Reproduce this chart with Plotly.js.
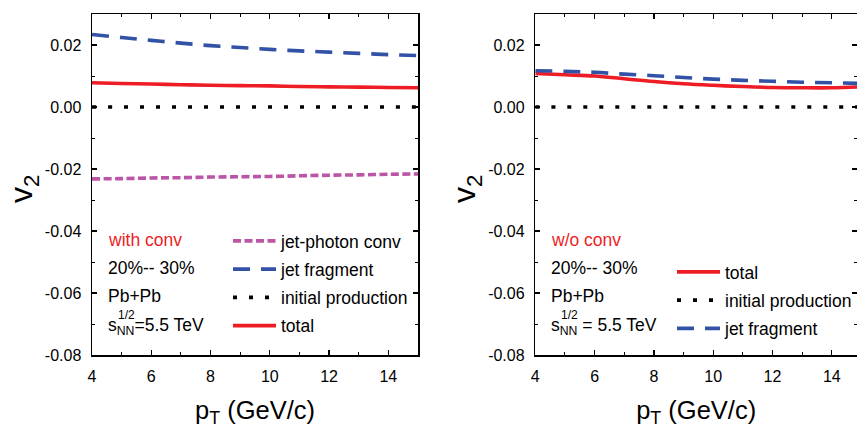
<!DOCTYPE html>
<html>
<head>
<meta charset="utf-8">
<script src="https://cdn.plot.ly/plotly-3.0.1.min.js"></script>
<style>html,body{margin:0;padding:0;background:#fff;}#chart{width:857px;height:430px;}</style>
</head>
<body>
<div id="chart"></div>
<script>
// ---- data ----
const ptLeft = [4, 5, 6, 7, 8, 9, 10, 11, 12, 13, 14, 15];
const leftJetConv = [-0.0232, -0.0231, -0.0229, -0.0228, -0.0226, -0.0225, -0.0224, -0.0222, -0.0220, -0.0219, -0.0217, -0.0216];
const leftJetFrag = [0.0234, 0.0224, 0.0215, 0.0206, 0.0198, 0.0192, 0.0186, 0.0181, 0.0177, 0.0173, 0.0169, 0.0166];
const leftInitial = [0, 0, 0, 0, 0, 0, 0, 0, 0, 0, 0, 0];
const leftTotal = [0.0078, 0.0076, 0.0074, 0.0072, 0.0070, 0.0069, 0.0068, 0.0066, 0.0065, 0.0064, 0.0063, 0.0062];

const ptRight = [4, 5, 6, 7, 8, 9, 10, 11, 12, 13, 14, 15];
const rightTotal = [0.0108, 0.0104, 0.0100, 0.0091, 0.0082, 0.0075, 0.0070, 0.0066, 0.0063, 0.0062, 0.0062, 0.0065];
const rightInitial = [0, 0, 0, 0, 0, 0, 0, 0, 0, 0, 0, 0];
const rightJetFrag = [0.0117, 0.0115, 0.0112, 0.0106, 0.0101, 0.0095, 0.0090, 0.0086, 0.0083, 0.0080, 0.0078, 0.0076];

const xTickVals = [4, 6, 8, 10, 12, 14];
const yTickVals = [-0.08, -0.06, -0.04, -0.02, 0.00, 0.02];
const yTickText = ['-0.08', '-0.06', '-0.04', '-0.02', '0.00', '0.02'];

// ---- styles ----
const RED = '#ee1d25', BLUE = '#3252a6', MAG = '#bd55a6', BLK = '#000000';
const FONT = 'Liberation Sans, Arial, sans-serif';
const W = 857, H = 430;

function tr(x, y, name, color, dash, xa, ya, leg, grp) {
  return {x: x, y: y, type: 'scatter', mode: 'lines', name: name,
    line: {color: color, width: 3.6, dash: dash, shape: 'spline'},
    xaxis: xa, yaxis: ya, legend: leg, legendgroup: grp, hoverinfo: 'skip'};
}

const traces = [
  tr(ptLeft, leftJetConv, 'jet-photon conv', MAG, '8px,3.5px', 'x', 'y', 'legend', 'a1'),
  tr(ptLeft, leftJetFrag, 'jet fragment', BLUE, '17px,11px', 'x', 'y', 'legend', 'a2'),
  tr(ptLeft, leftInitial, 'initial production', BLK, '4px,12px', 'x', 'y', 'legend', 'a3'),
  tr(ptLeft, leftTotal, 'total', RED, 'solid', 'x', 'y', 'legend', 'a4'),
  tr(ptRight, rightTotal, 'total', RED, 'solid', 'x2', 'y2', 'legend2', 'b1'),
  tr(ptRight, rightInitial, 'initial production', BLK, '4px,12px', 'x2', 'y2', 'legend2', 'b2'),
  tr(ptRight, rightJetFrag, 'jet fragment', BLUE, '17px,11px', 'x2', 'y2', 'legend2', 'b3')
];

function xax(domain, range, anchor) {
  return {domain: domain, range: range, anchor: anchor, tickmode: 'array', tickvals: xTickVals,
    ticks: 'inside', ticklen: 5, tickwidth: 1.2, tickcolor: '#000', mirror: 'ticks',
    showline: true, linecolor: '#000', linewidth: 1.5, showgrid: false, zeroline: false,
    minor: {ticks: 'inside', ticklen: 3, tickwidth: 1, tickcolor: '#000', dtick: 1, tick0: 4},
    tickfont: {family: FONT, size: 16, color: '#000'}, ticklabelstandoff: 6,
    title: {text: 'p<sub>T</sub> (GeV/c)', font: {family: FONT, size: 25.5, color: '#000'}, standoff: 17}};
}
function yax(domain, anchor) {
  return {domain: domain, range: [-0.08, 0.03], anchor: anchor, tickmode: 'array', tickvals: yTickVals, ticktext: yTickText,
    ticks: 'inside', ticklen: 5, tickwidth: 1.2, tickcolor: '#000', mirror: 'ticks',
    showline: true, linecolor: '#000', linewidth: 1.5, showgrid: false, zeroline: false,
    minor: {ticks: 'inside', ticklen: 3, tickwidth: 1, tickcolor: '#000', dtick: 0.01, tick0: 0},
    tickfont: {family: FONT, size: 16, color: '#000'}, ticklabelstandoff: 6};
}

const px = v => v / W, py = v => 1 - v / H;
const plotTop = 14, plotBot = 355;
const yDom = [(H - plotBot) / H, (H - plotTop) / H];

function ann(x, y, text, color, size) {
  return {xref: 'paper', yref: 'paper', x: px(x), y: py(y), text: text, showarrow: false,
    xanchor: 'left', yanchor: 'middle', font: {family: FONT, size: size || 17.5, color: color || '#000'}};
}

const annotations = [
  ann(106, 240, 'with conv', RED),
  ann(106, 268, '20%-- 30%'),
  ann(106, 296, 'Pb+Pb'),
  ann(106, 326, 's<sub>NN</sub>=5.5 TeV'),
  {xref: 'paper', yref: 'paper', x: px(116), y: py(315), text: '1/2', showarrow: false, xanchor: 'left', yanchor: 'middle', font: {family: FONT, size: 12, color: '#000'}},
  ann(549, 240, 'w/o conv', RED),
  ann(549, 268, '20%-- 30%'),
  ann(549, 296, 'Pb+Pb'),
  ann(549, 326, 's<sub>NN</sub> = 5.5 TeV'),
  {xref: 'paper', yref: 'paper', x: px(559), y: py(315), text: '1/2', showarrow: false, xanchor: 'left', yanchor: 'middle', font: {family: FONT, size: 12, color: '#000'}},
  {xref: 'paper', yref: 'paper', x: px(23), y: py(189), text: 'v<sub>2</sub>', textangle: -90, showarrow: false, xanchor: 'center', yanchor: 'middle', font: {family: FONT, size: 32, color: '#000'}},
  {xref: 'paper', yref: 'paper', x: px(466), y: py(189), text: 'v<sub>2</sub>', textangle: -90, showarrow: false, xanchor: 'center', yanchor: 'middle', font: {family: FONT, size: 32, color: '#000'}}
];

const legendBase = {font: {family: FONT, size: 17.5, color: '#000'}, bgcolor: 'rgba(0,0,0,0)', borderwidth: 0,
  traceorder: 'grouped', tracegroupgap: 2.5, xanchor: 'left', yanchor: 'top', itemwidth: 43};

const layout = {
  width: W, height: H, paper_bgcolor: '#fff', plot_bgcolor: '#fff',
  margin: {l: 0, r: 0, t: 0, b: 0, pad: 0},
  xaxis: xax([px(92), px(418)], [4, 15], 'y'),
  yaxis: yax(yDom, 'x'),
  xaxis2: xax([px(535.3), 1], [4, 14.85], 'y2'),
  yaxis2: yax(yDom, 'x2'),
  legend: Object.assign({}, legendBase, {x: px(228), y: py(223)}),
  legend2: Object.assign({}, legendBase, {x: px(672), y: py(254)}),
  annotations: annotations,
  showlegend: true
};

Plotly.newPlot('chart', traces, layout, {staticPlot: true, displayModeBar: false});
</script>
</body>
</html>
